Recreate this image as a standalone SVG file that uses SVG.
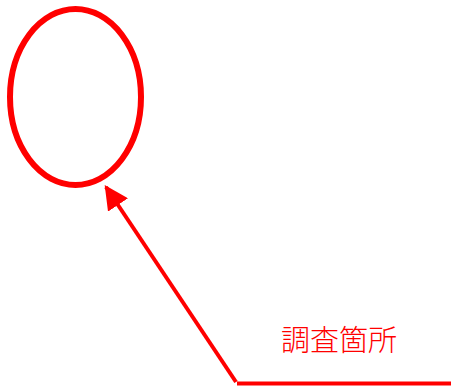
<svg xmlns="http://www.w3.org/2000/svg" width="451" height="389" viewBox="0 0 451 389">
<style>
.r{fill:none;stroke:#ff0000;}
.t{font-family:"Noto Sans CJK JP","Noto Sans CJK SC",sans-serif;font-size:29px;font-weight:300;fill:#ff0000;}
</style>
<defs>
<marker id="ah" viewBox="0 0 10 10" refX="9" refY="5" markerWidth="6" markerHeight="6" markerUnits="strokeWidth" orient="auto">
<path d="M0,0 L10,5 L0,10 Z" fill="#ff0000"/>
</marker>
</defs>
<rect width="451" height="389" fill="#ffffff"/>
<g id="node-ellipse">
<ellipse class="r" cx="75.5" cy="97" rx="65.5" ry="88" stroke-width="6"/>
</g>
<g id="node-label">
<text class="t" x="281" y="351">調査箇所</text>
</g>
<g id="connectors">
<line class="r" x1="237" y1="383.5" x2="451" y2="383.5" stroke-width="4"/>
<line class="r" x1="236" y1="382" x2="106" y2="187" stroke-width="4" marker-end="url(#ah)"/>
</g>
</svg>
